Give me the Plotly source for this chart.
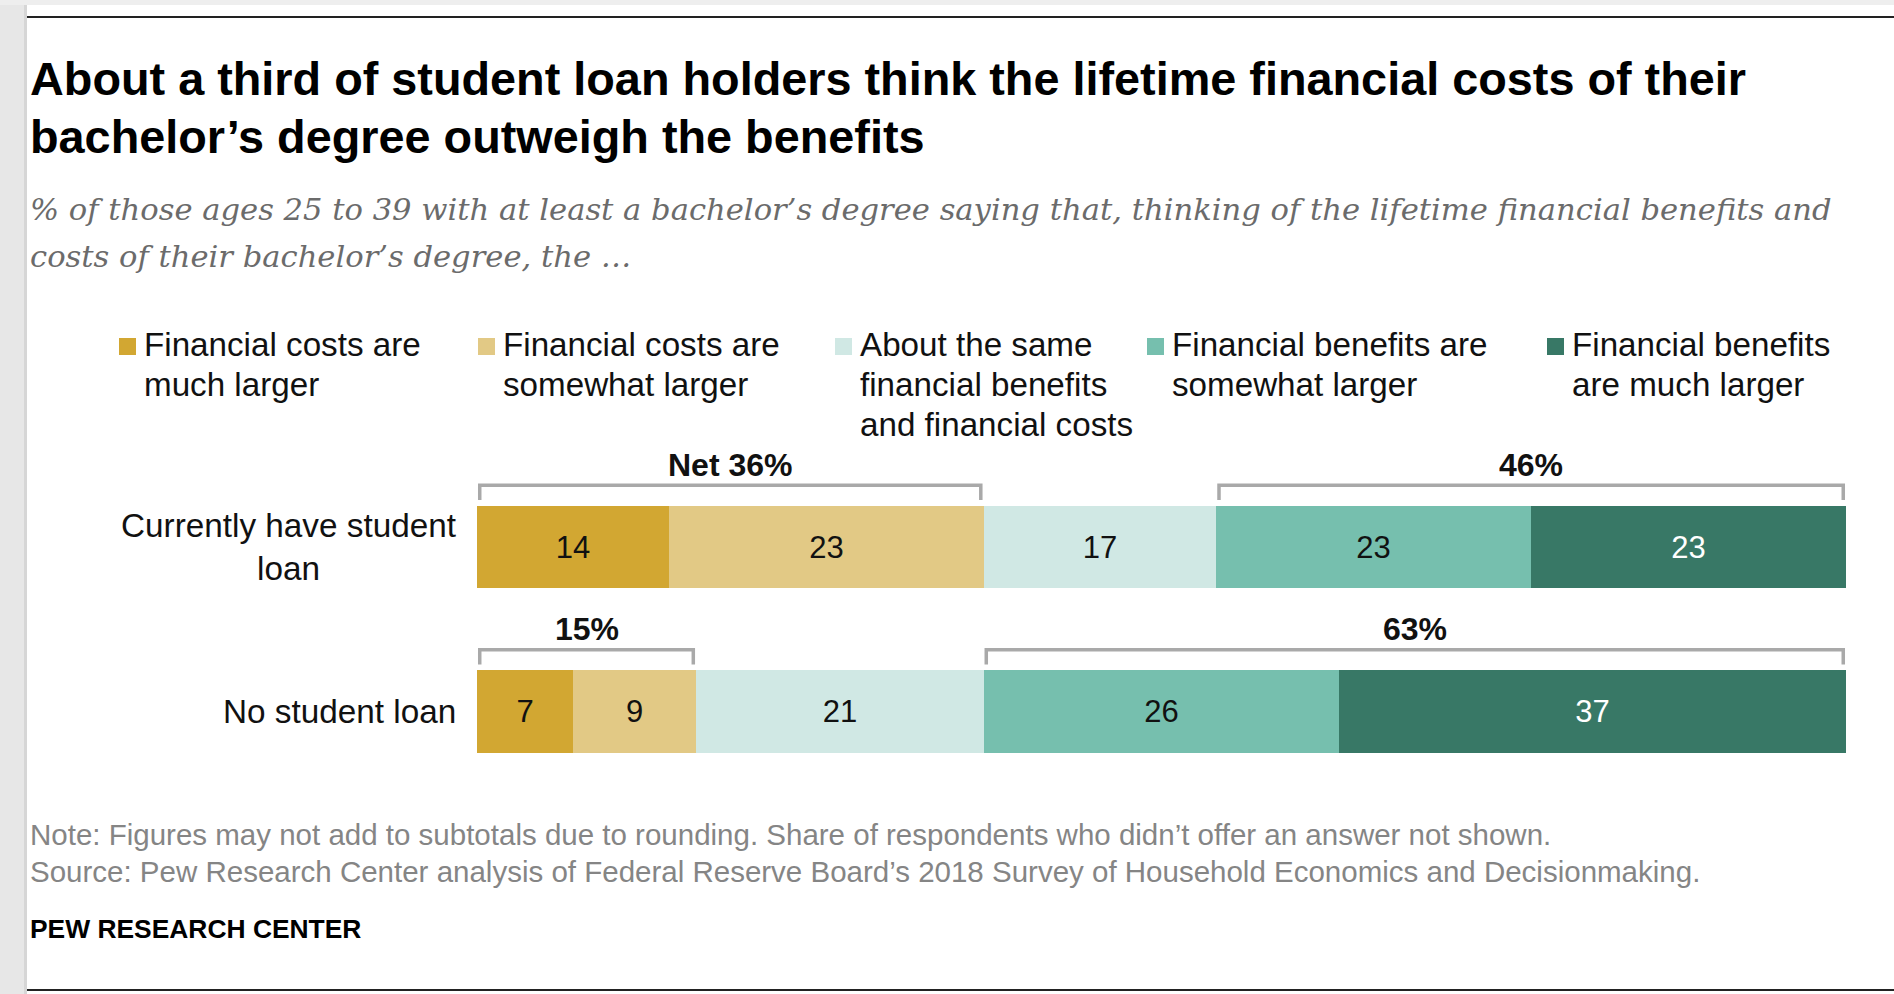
import plotly.graph_objects as go

W, H = 1894, 994

# ---------------- data ----------------
categories = ["Currently have student loan", "No student loan"]
category_labels = ["Currently have student<br>loan", "No student loan"]

series_names = [
    "Financial costs are much larger",
    "Financial costs are somewhat larger",
    "About the same financial benefits and financial costs",
    "Financial benefits are somewhat larger",
    "Financial benefits are much larger",
]
legend_lines = [
    ["Financial costs are", "much larger"],
    ["Financial costs are", "somewhat larger"],
    ["About the same", "financial benefits", "and financial costs"],
    ["Financial benefits are", "somewhat larger"],
    ["Financial benefits", "are much larger"],
]

costs_much = [14, 7]
costs_somewhat = [23, 9]
about_same = [17, 21]
benefits_somewhat = [23, 26]
benefits_much = [23, 37]

net_costs = [36, 15]
net_benefits = [46, 63]
net_costs_prefix = ["Net ", ""]

title_lines = [
    "About a third of student loan holders think the lifetime financial costs of their",
    "bachelor\u2019s degree outweigh the benefits",
]
subtitle_lines = [
    "% of those ages 25 to 39 with at least a bachelor\u2019s degree saying that, thinking of the lifetime financial benefits and",
    "costs of their bachelor\u2019s degree, the \u2026",
]
note_lines = [
    "Note: Figures may not add to subtotals due to rounding. Share of respondents who didn\u2019t offer an answer not shown.",
    "Source: Pew Research Center analysis of Federal Reserve Board\u2019s 2018 Survey of Household Economics and Decisionmaking.",
]
brand = "PEW RESEARCH CENTER"

# ---------------- styles ----------------
colors = ["#D2A732", "#E2C985", "#D0E8E4", "#76BFAE", "#387866"]
text_colors = ["#111111", "#111111", "#111111", "#111111", "#FFFFFF"]
SANS = "Liberation Sans, Arial, sans-serif"
SERIF = "DejaVu Serif, Georgia, serif"
BRACKET = "#A9A9A9"


def px(x):
    return x / W


def py(y):
    return 1 - y / H


fig = go.Figure()

series = [costs_much, costs_somewhat, about_same, benefits_somewhat, benefits_much]
for name, vals, c, tc in zip(series_names, series, colors, text_colors):
    fig.add_trace(go.Bar(
        y=categories, x=vals, orientation="h", name=name,
        marker=dict(color=c, line=dict(width=0)), width=0.5,
        text=[str(v) for v in vals], textposition="inside",
        insidetextanchor="middle", textangle=0, constraintext="none",
        textfont=dict(family=SANS, size=31, color=tc),
        hoverinfo="skip", showlegend=False,
    ))

shapes = []
annotations = []

# background strips (screenshot frame)
shapes.append(dict(type="rect", xref="paper", yref="paper", x0=0, x1=px(27), y0=0, y1=1,
                   fillcolor="#E7E7E7", line=dict(width=0), layer="below"))
shapes.append(dict(type="rect", xref="paper", yref="paper", x0=px(24), x1=px(27), y0=0, y1=1,
                   fillcolor="#D6D6D6", line=dict(width=0), layer="below"))
shapes.append(dict(type="rect", xref="paper", yref="paper", x0=0, x1=1, y0=py(5), y1=1,
                   fillcolor="#EEEEEE", line=dict(width=0), layer="below"))
# top & bottom rules
for yy in (17, 990):
    shapes.append(dict(type="line", xref="paper", yref="paper", x0=px(27), x1=1, y0=py(yy), y1=py(yy),
                       line=dict(color="#222222", width=2)))

# brackets + net labels
TOP, BOT, LAB = -0.375, -0.285, -0.5
INSET = 0.2
for i in range(len(categories)):
    c_end = costs_much[i] + costs_somewhat[i]
    b_start = c_end + about_same[i]
    b_end = b_start + benefits_somewhat[i] + benefits_much[i]
    for (x0, x1, label) in [
        (0, c_end, f"{net_costs_prefix[i]}{net_costs[i]}%"),
        (b_start, b_end, f"{net_benefits[i]}%"),
    ]:
        a, b = x0 + INSET, x1 - INSET
        yt, yb = i + TOP, i + BOT
        shapes.append(dict(type="path", xref="x", yref="y",
                           path=f"M {a},{yb} L {a},{yt} L {b},{yt} L {b},{yb}",
                           line=dict(color=BRACKET, width=3.5)))
        annotations.append(dict(xref="x", yref="y", x=(x0 + x1) / 2, y=i + LAB,
                                text=f"<b>{label}</b>", showarrow=False,
                                xanchor="center", yanchor="middle",
                                font=dict(family=SANS, size=32, color="#111111")))

# category labels
for i, lab in enumerate(category_labels):
    annotations.append(dict(xref="paper", yref="y", x=px(458), y=i, text=lab,
                            showarrow=False, xanchor="right", yanchor="middle",
                            align="center",
                            font=dict(family=SANS, size=33.3, color="#111111")))

# title
for line, yc in zip(title_lines, [79, 137]):
    annotations.append(dict(xref="paper", yref="paper", x=px(28), y=py(yc), text=f"<b>{line}</b>",
                            showarrow=False, xanchor="left", yanchor="middle",
                            font=dict(family=SANS, size=46.8, color="#000000")))
# subtitle
for line, yc in zip(subtitle_lines, [209, 256]):
    annotations.append(dict(xref="paper", yref="paper", x=px(28), y=py(yc), text=f"<i>{line}</i>",
                            showarrow=False, xanchor="left", yanchor="middle",
                            font=dict(family=SERIF, size=30.6, color="#6B6B6B")))

# legend
legend_sq_x = [119, 478, 835, 1147, 1547]
legend_line_y = [344, 384, 424]
for lines, c, sx in zip(legend_lines, colors, legend_sq_x):
    shapes.append(dict(type="rect", xref="paper", yref="paper", x0=px(sx), x1=px(sx + 17),
                       y0=py(355), y1=py(338), fillcolor=c, line=dict(width=0)))
    for line, yc in zip(lines, legend_line_y):
        annotations.append(dict(xref="paper", yref="paper", x=px(sx + 23), y=py(yc), text=line,
                                showarrow=False, xanchor="left", yanchor="middle",
                                font=dict(family=SANS, size=33.2, color="#111111")))

# notes
for line, yc in zip(note_lines, [834, 871]):
    annotations.append(dict(xref="paper", yref="paper", x=px(28), y=py(yc), text=line,
                            showarrow=False, xanchor="left", yanchor="middle",
                            font=dict(family=SANS, size=29.5, color="#858585")))
annotations.append(dict(xref="paper", yref="paper", x=px(28), y=py(929), text=f"<b>{brand}</b>",
                        showarrow=False, xanchor="left", yanchor="middle",
                        font=dict(family=SANS, size=26.4, color="#000000")))

# axis geometry: row centres at 547 px and 711.5 px
ROW0, STEP = 547.0, 164.5
r_top = -ROW0 / STEP
r_bot = r_top + H / STEP

fig.update_layout(
    width=W, height=H, barmode="stack", bargap=0,
    margin=dict(l=0, r=0, t=0, b=0, pad=0),
    paper_bgcolor="#FFFFFF", plot_bgcolor="rgba(0,0,0,0)",
    xaxis=dict(domain=[px(477), px(1846)], range=[0, 100], visible=False, fixedrange=True),
    yaxis=dict(type="category", categoryorder="array", categoryarray=categories,
               range=[r_bot, r_top], visible=False, fixedrange=True),
    shapes=shapes, annotations=annotations,
    showlegend=False,
)

fig.write_html("out.html")
